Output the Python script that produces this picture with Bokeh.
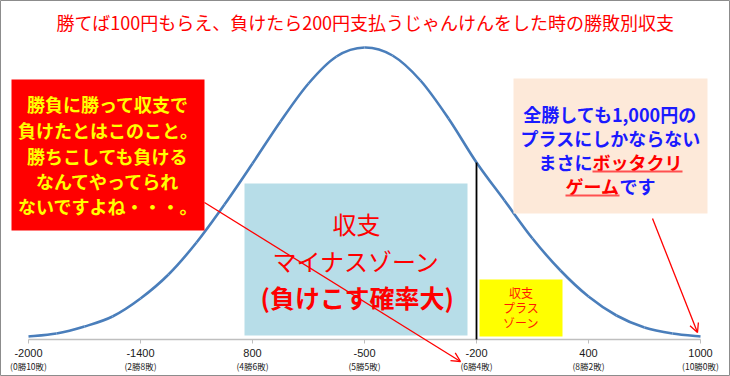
import numpy as np
from bokeh.plotting import figure
from bokeh.models import Range1d, Arrow, OpenHead
from bokeh.core.properties import value
from bokeh.embed import file_html
from bokeh.resources import INLINE

# ---- data ----
title = "勝てば100円もらえ、負けたら200円支払うじゃんけんをした時の勝敗別収支"
categories = ["-2000", "-1400", "800", "-500", "-200", "400", "1000"]
sub_labels = ["(0勝10敗)", "(2勝8敗)", "(4勝6敗)", "(5勝5敗)", "(6勝4敗)", "(8勝2敗)", "(10勝0敗)"]
# curve read every quarter category (relative height)
curve_pos = [i * 0.25 for i in range(25)]
curve_val = [3, 6, 13, 23, 41, 65, 97, 135, 176, 218, 256, 283, 292,
             284, 259, 221, 177, 139, 101, 69, 43, 24, 12, 6, 3]

left_note = ["勝負に勝って収支で", "負けたとはこのこと。", "勝ちこしても負ける",
             "なんてやってられ", "ないですよね・・・。"]
minus_note = ["収支", "マイナスゾーン", "(負けこす確率大)"]
plus_note = ["収支", "プラス", "ゾーン"]

W, H = 730, 376
X0, DX, BASE = 28, 112, 339


def X(px):
    return (px - X0) / DX


def Y(py):
    return BASE - py


JP = value("Noto Sans CJK JP")

p = figure(width=W, height=H, output_backend="svg", toolbar_location=None,
           x_range=Range1d(X(0), X(W)), y_range=Range1d(Y(H), Y(0)),
           min_border=0, min_border_left=0, min_border_right=0,
           min_border_top=0, min_border_bottom=0)
p.axis.visible = False
p.grid.visible = False
p.background_fill_color = "white"
p.border_fill_color = "white"
p.outline_line_color = "#8c8c8c"
p.outline_line_width = 1

# axis line and ticks
p.segment(x0=[0], y0=[0], x1=[len(categories) - 1], y1=[0], line_color="#bfbfbf", line_width=1.5)
cx = list(range(len(categories)))
p.segment(x0=cx, y0=[0] * len(cx), x1=cx, y1=[-4] * len(cx), line_color="#bfbfbf", line_width=1)

# smoothed curve (Excel-style smoothing: Catmull-Rom rendered as Bezier segments)
px_ = np.array(curve_pos, dtype=float)
py_ = np.array(curve_val, dtype=float)
n = len(px_)
x0s, y0s, x1s, y1s, cx0s, cy0s, cx1s, cy1s = [], [], [], [], [], [], [], []
for i in range(n - 1):
    im1 = max(i - 1, 0)
    ip2 = min(i + 2, n - 1)
    x0s.append(px_[i]); y0s.append(py_[i])
    x1s.append(px_[i + 1]); y1s.append(py_[i + 1])
    cx0s.append(px_[i] + (px_[i + 1] - px_[im1]) / 6); cy0s.append(py_[i] + (py_[i + 1] - py_[im1]) / 6)
    cx1s.append(px_[i + 1] - (px_[ip2] - px_[i]) / 6); cy1s.append(py_[i + 1] - (py_[ip2] - py_[i]) / 6)
p.bezier(x0=x0s, y0=y0s, x1=x1s, y1=y1s, cx0=cx0s, cy0=cy0s, cx1=cx1s, cy1=cy1s,
         line_color="#4a7ebb", line_width=2.6)

# vertical black line at -200
idx = categories.index("-200")
p.segment(x0=[idx], y0=[0], x1=[idx], y1=[curve_val[idx * 4]], line_color="black", line_width=1.8)

# tick labels
p.text(x=cx, y=[Y(352.5)] * len(cx), text=categories, text_align="center", text_baseline="middle",
       text_font=value("Liberation Sans"), text_font_size="11px", text_color="#1a1a1a")
p.text(x=cx, y=[Y(365.5)] * len(cx), text=sub_labels, text_align="center", text_baseline="middle",
       text_font=JP, text_font_size="8.5px", text_color="#1a1a1a")

# title
p.text(x=[X(365)], y=[Y(21)], text=[title], text_align="center", text_baseline="middle",
       text_font=JP, text_font_size="18px", text_color="#ff0000")

# red box
p.quad(left=[X(11)], right=[X(204)], top=[Y(79)], bottom=[Y(230)], fill_color="#ff0000", line_color=None)
p.text(x=[X(107.5)] * 5, y=[Y(v) for v in (103.5, 129.5, 155, 180.5, 205.5)], text=left_note,
       text_align="center", text_baseline="middle", text_font=JP, text_font_size="18px",
       text_font_style="bold", text_color="#ffff00")

# blue box
p.quad(left=[X(244)], right=[X(467)], top=[Y(183)], bottom=[Y(335)], fill_color="#b7dde8", line_color=None)
p.text(x=[X(356)] * 2, y=[Y(v) for v in (223, 260)], text=minus_note[:2],
       text_align="center", text_baseline="middle", text_font=JP, text_font_size="24px",
       text_color="#ff0000")
p.text(x=[X(357)], y=[Y(296)], text=minus_note[2:],
       text_align="center", text_baseline="middle", text_font=JP, text_font_size="25px",
       text_font_style="bold", text_color="#ff0000")

# yellow box
p.quad(left=[X(479)], right=[X(562)], top=[Y(279)], bottom=[Y(336)], fill_color="#ffff00", line_color=None)
p.text(x=[X(520.5)] * 3, y=[Y(v) for v in (292, 307, 322)], text=plus_note,
       text_align="center", text_baseline="middle", text_font=JP, text_font_size="12px",
       text_color="#ff1a00")

# peach box
p.quad(left=[X(513)], right=[X(707)], top=[Y(78)], bottom=[Y(213)], fill_color="#fde9d9", line_color=None)
blue = "#1a1aff"
fs = 18
p.text(x=[X(610)] * 2, y=[Y(113), Y(137.5)], text=["全勝しても1,000円の", "プラスにしかならない"],
       text_align="center", text_baseline="middle", text_font=JP, text_font_size=f"{fs}px",
       text_font_style="bold", text_color=blue)
# line 3: まさに + ボッタクリ
l3x = 610 - 8 * fs / 2
p.text(x=[X(l3x)], y=[Y(161)], text=["まさに"], text_align="left", text_baseline="middle",
       text_font=JP, text_font_size=f"{fs}px", text_font_style="bold", text_color=blue)
p.text(x=[X(l3x + 3 * fs)], y=[Y(161)], text=["ボッタクリ"], text_align="left", text_baseline="middle",
       text_font=JP, text_font_size=f"{fs}px", text_font_style="bold", text_color="#ff0000")
p.segment(x0=[X(l3x + 3 * fs)], y0=[Y(171)], x1=[X(l3x + 8 * fs)], y1=[Y(171)], line_color="#ff5050", line_width=2)
# line 4: ゲーム + です
l4x = 610 - 5 * fs / 2
p.text(x=[X(l4x)], y=[Y(185)], text=["ゲーム"], text_align="left", text_baseline="middle",
       text_font=JP, text_font_size=f"{fs}px", text_font_style="bold", text_color="#ff0000")
p.text(x=[X(l4x + 3 * fs)], y=[Y(185)], text=["です"], text_align="left", text_baseline="middle",
       text_font=JP, text_font_size=f"{fs}px", text_font_style="bold", text_color=blue)
p.segment(x0=[X(l4x)], y0=[Y(195)], x1=[X(l4x + 3 * fs)], y1=[Y(195)], line_color="#ff5050", line_width=2)

# arrows
p.add_layout(Arrow(end=OpenHead(size=9, line_color="#ff0000", line_width=1.3),
                   x_start=X(204), y_start=Y(202), x_end=X(460), y_end=Y(361),
                   line_color="#ff0000", line_width=1.3))
p.add_layout(Arrow(end=OpenHead(size=9, line_color="#ff0000", line_width=1.3),
                   x_start=X(652), y_start=Y(218), x_end=X(697), y_end=Y(332),
                   line_color="#ff0000", line_width=1.3))

open("out.html", "w").write(file_html(p, INLINE))
